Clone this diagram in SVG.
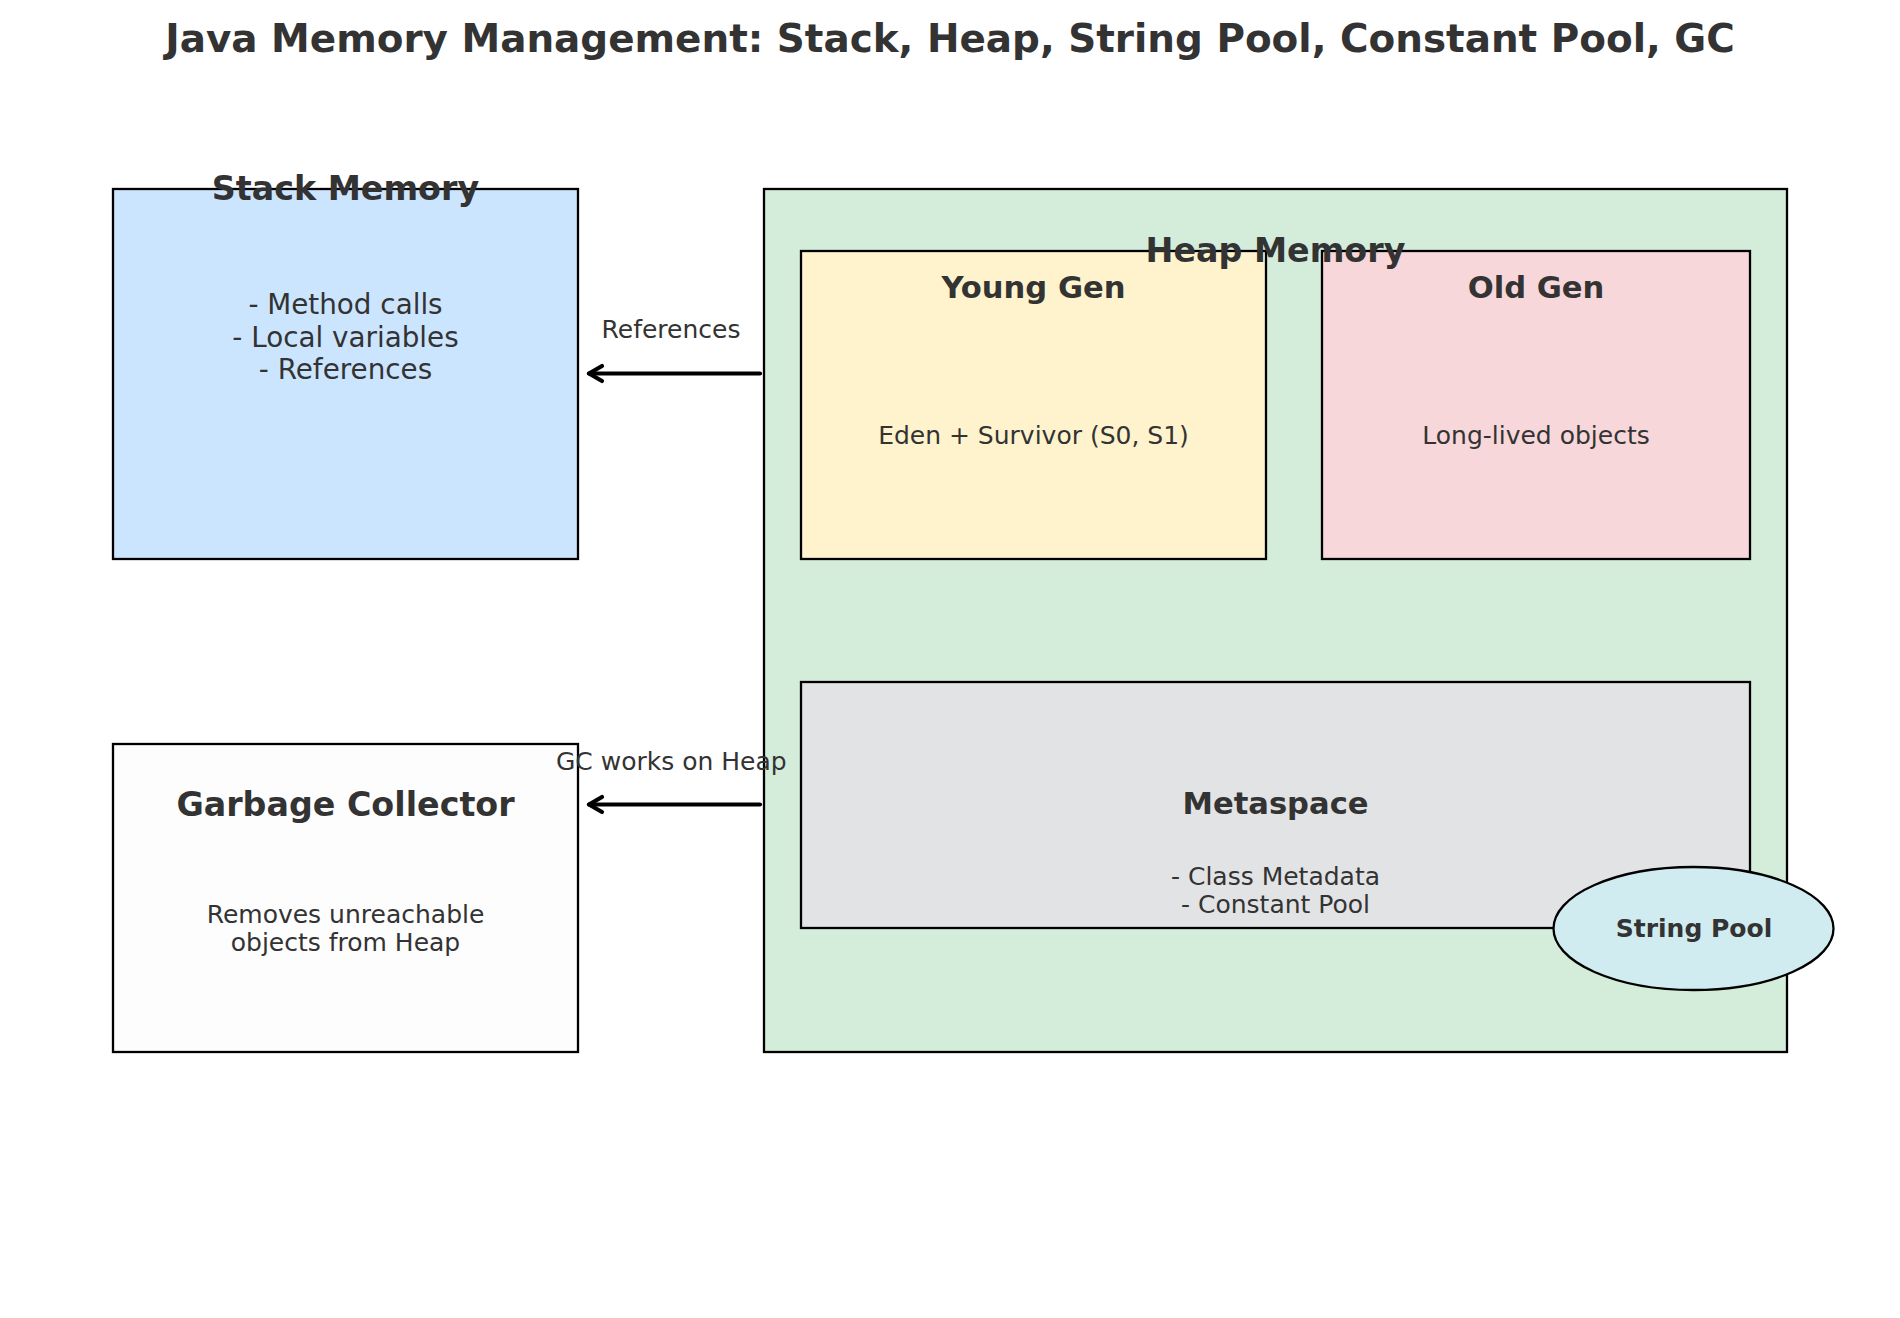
<svg xmlns="http://www.w3.org/2000/svg" width="1900" height="1318" viewBox="0 0 1900 1318">
<style>
.box{stroke:#000;stroke-width:2.3}
.t{font-family:"DejaVu Sans",sans-serif;fill:#333;text-anchor:middle}
.b{font-weight:bold}
.h24{font-size:33.3px}
.h22{font-size:30.6px}
.s20{font-size:27.8px}
.s18{font-size:25px}
.conn{stroke:#000;stroke-width:4.2;fill:none;stroke-linecap:round;stroke-linejoin:round}
</style>
<rect width="1900" height="1318" fill="#fff"/>
<text class="t b" x="950" y="51.5" font-size="38.9px">Java Memory Management: Stack, Heap, String Pool, Constant Pool, GC</text>

<g id="stack">
<rect class="box" x="113" y="189" width="465" height="370" fill="#cce5ff"/>
<text class="t b h24" x="345.5" y="200">Stack Memory</text>
<text class="t s20" x="345.5" y="314">- Method calls</text>
<text class="t s20" x="345.5" y="346.5">- Local variables</text>
<text class="t s20" x="345.5" y="379">- References</text>
</g>

<g id="heap">
<rect class="box" x="764" y="189" width="1023" height="863" fill="#d4edda"/>
</g>

<g id="young">
<rect class="box" x="801" y="251" width="465" height="308" fill="#fff3cd"/>
<text class="t b h22" x="1033.5" y="298">Young Gen</text>
<text class="t s18" x="1033.5" y="443.5">Eden + Survivor (S0, S1)</text>
</g>

<g id="old">
<rect class="box" x="1322" y="251" width="428" height="308" fill="#f8d7da"/>
<text class="t b h22" x="1536" y="298">Old Gen</text>
<text class="t s18" x="1536" y="443.5">Long-lived objects</text>
</g>

<g id="heap-label">
<text class="t b h24" x="1275.5" y="261.5">Heap Memory</text>
</g>

<g id="metaspace">
<rect class="box" x="801" y="682" width="949" height="246" fill="#e2e3e5"/>
<text class="t b h22" x="1275.5" y="814">Metaspace</text>
<text class="t s18" x="1275.5" y="885">- Class Metadata</text>
<text class="t s18" x="1275.5" y="912.5">- Constant Pool</text>
</g>

<g id="stringpool">
<ellipse class="box" cx="1693.5" cy="928.5" rx="140" ry="61.5" fill="#d1ecf1"/>
<text class="t b s18" x="1694" y="937">String Pool</text>
</g>

<g id="gc">
<rect class="box" x="113" y="744" width="465" height="308" fill="#fdfdfe"/>
<text class="t b h24" x="345.5" y="816">Garbage Collector</text>
<text class="t s18" x="345.5" y="923">Removes unreachable</text>
<text class="t s18" x="345.5" y="951">objects from Heap</text>
</g>

<g id="connectors">
<path class="conn" d="M 760 373.5 L 589 373.5"/>
<path class="conn" d="M 602 366 L 589 373.5 L 602 381"/>
<text class="t s18" x="671" y="338">References</text>
<path class="conn" d="M 760 804.5 L 589 804.5"/>
<path class="conn" d="M 602 797 L 589 804.5 L 602 812"/>
<text class="t s18" x="671.3" y="769.5">GC works on Heap</text>
</g>
</svg>
